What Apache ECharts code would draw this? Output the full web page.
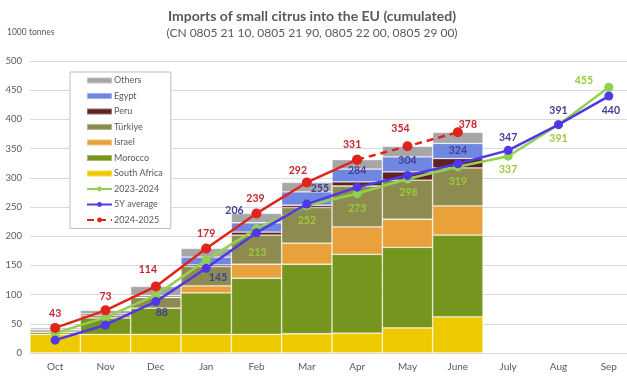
<!DOCTYPE html>
<html>
<head>
<meta charset="utf-8">
<script src="https://cdn.jsdelivr.net/npm/echarts@6/dist/echarts.min.js"></script>
<style>
  html, body { margin: 0; padding: 0; background: #fff; }
  #main { width: 627px; height: 377px; }
</style>
</head>
<body>
<div id="main"></div>
<script>
// categories (season Oct - Sep)
var months = ['Oct', 'Nov', 'Dec', 'Jan', 'Feb', 'Mar', 'Apr', 'May', 'June', 'July', 'Aug', 'Sep'];

// 2024-2025 cumulated imports by origin (1000 t), Oct - June
var southAfrica = [32, 32, 32, 32, 32, 33, 34, 43, 62];
var morocco     = [3, 28, 45, 71, 96, 119, 135, 138, 140];
var israel      = [0, 0, 0, 12, 24, 36, 47, 48, 50];
var turkiye     = [3, 4, 18, 33, 50, 61, 70, 67, 65];
var peru        = [2, 3, 3, 3, 5, 4, 7, 14, 16];
var egypt       = [0, 0, 0, 13, 16, 23, 22, 26, 26];
var others      = [3, 6, 16, 15, 16, 16, 16, 18, 19];

// totals
var season2324 = [34, 61, 99, 159, 213, 252, 273, 298, 319, 337, 391, 455];
var avg5y      = [22, 48, 88, 145, 206, 255, 284, 304, 324, 347, 391, 440];
var season2425 = [43, 73, 114, 179, 239, 292, 331, 354, 378];

var yTicks = [0, 50, 100, 150, 200, 250, 300, 350, 400, 450, 500];

var FONT = 'Lato, "Noto Sans", sans-serif';
var GREY_TXT = '#595959';

// label offsets (px from point centre), null = no label
var offRed = [[0, -14], [0, -14], [-8, -17], [0, -15], [-1, -15], [-9, -12], [-5, -15], [-7, -18], [10, -8]];
var offBlue = [null, null, [6, 11], [12, 9], [-22, -22], [13, -15], [0, -17], [0, -15], [0, -13], [0, -13], [0, -14], [2, 15]];
var offGreen = [null, null, null, null, [1, 24], [0, 15], [0, 15], [1, 14], [0, 15], [0, 13], [0, 14], [-25, -7]];

function withLabels(values, offsets, color) {
    return values.map(function (v, i) {
        var off = offsets[i];
        if (v == null) return null;
        if (!off) return { value: v, label: { show: false } };
        return {
            value: v,
            label: { show: true, position: 'inside', offset: off, color: color }
        };
    });
}

var myChart = echarts.init(document.getElementById('main'));

var barDefs = [
    ['South Africa', southAfrica, '#EFC900'],
    ['Morocco', morocco, '#76951F'],
    ['Israel', israel, '#E9A13B'],
    ['Türkiye', turkiye, '#8E8B50'],
    ['Peru', peru, '#5E2220'],
    ['Egypt', egypt, '#6F87E0'],
    ['Others', others, '#A6A6A6']
];

var series = barDefs.map(function (d) {
    return {
        name: d[0],
        type: 'bar',
        stack: 'origin',
        data: d[1],
        barCategoryGap: 0,
        barWidth: '100%',
        itemStyle: {
            color: d[2],
            borderColor: 'rgba(255,255,255,0.35)',
            borderWidth: 0.8
        },
        emphasis: { disabled: true }
    };
});

var lblFont = { fontFamily: FONT, fontSize: 10.5, fontWeight: 'bold' };

series.push({
    name: '2023-2024',
    type: 'line',
    data: withLabels(season2324, offGreen, '#9BC93A'),
    symbol: 'circle',
    symbolSize: 9,
    lineStyle: { color: '#92D050', width: 2.5 },
    itemStyle: { color: '#92D050' },
    label: Object.assign({ show: false }, lblFont),
    z: 3
});

series.push({
    name: '5Y average',
    type: 'line',
    data: withLabels(avg5y, offBlue, '#40409A'),
    symbol: 'circle',
    symbolSize: 9,
    lineStyle: { color: '#5038E6', width: 2.5 },
    itemStyle: { color: '#5038E6' },
    label: Object.assign({ show: false }, lblFont),
    z: 4
});

var redLabelled = withLabels(season2425, offRed, '#C4262E');

// dashed part Apr - June (carries the May / June labels)
series.push({
    name: '2024-2025',
    type: 'line',
    data: redLabelled.map(function (d, i) {
        if (i < 6) return null;
        if (i === 6) return { value: d.value, label: { show: false } };
        return d;
    }),
    symbol: 'circle',
    symbolSize: 10,
    lineStyle: { color: '#E0241C', width: 2.5, type: [7, 5] },
    itemStyle: { color: '#E0241C' },
    label: Object.assign({ show: false }, lblFont),
    z: 5
});

// solid part Oct - Apr
series.push({
    name: '2024-2025 solid',
    type: 'line',
    data: redLabelled.map(function (d, i) { return i <= 6 ? d : null; }),
    symbol: 'circle',
    symbolSize: 10,
    lineStyle: { color: '#E0241C', width: 2.5 },
    itemStyle: { color: '#E0241C' },
    label: Object.assign({ show: false }, lblFont),
    z: 6
});

var legendNames = ['Others', 'Egypt', 'Peru', 'Türkiye', 'Israel', 'Morocco', 'South Africa',
    '2023-2024', '5Y average', '2024-2025'];

var option = {
    animation: false,
    textStyle: { fontFamily: FONT },
    title: [{
        text: 'Imports of small citrus into the EU (cumulated)',
        subtext: '(CN 0805 21 10, 0805 21 90, 0805 22 00, 0805 29 00)',
        left: 307,
        textAlign: 'center',
        top: 4,
        itemGap: 4,
        textStyle: { fontFamily: FONT, fontSize: 14, fontWeight: 'bold', color: GREY_TXT },
        subtextStyle: { fontFamily: FONT, fontSize: 12, color: GREY_TXT }
    }, {
        text: '1000 tonnes',
        left: 2,
        top: 23,
        textStyle: { fontFamily: FONT, fontSize: 8.5, fontWeight: 'normal', color: GREY_TXT }
    }],
    legend: {
        orient: 'vertical',
        left: 70,
        top: 72,
        data: legendNames.map(function (n, i) {
            return i < 7 ? { name: n, icon: 'rect' } : { name: n };
        }),
        backgroundColor: '#fff',
        borderColor: '#BFBFBF',
        borderWidth: 1,
        borderRadius: 0,
        padding: [4, 8, 4, 16],
        itemWidth: 25,
        itemHeight: 6,
        itemGap: 6.5,
        textStyle: { fontFamily: FONT, fontSize: 9, color: GREY_TXT, padding: [0, 0, 0, -3] }
    },
    grid: { left: 30, width: 604, top: 61, bottom: 24, outerBoundsMode: 'none', containLabel: false },
    xAxis: {
        type: 'category',
        data: months,
        boundaryGap: true,
        axisLine: { lineStyle: { color: '#D9D9D9', width: 1 } },
        axisTick: { show: false },
        axisLabel: { color: GREY_TXT, fontSize: 10, fontFamily: FONT, margin: 9 }
    },
    yAxis: {
        type: 'value',
        min: yTicks[0],
        max: yTicks[yTicks.length - 1],
        interval: 50,
        axisLine: { show: false },
        axisTick: { show: false },
        splitLine: { lineStyle: { color: '#D9D9D9', width: 1 } },
        axisLabel: { color: GREY_TXT, fontSize: 9.5, fontFamily: FONT, margin: 8 }
    },
    series: series
};

myChart.setOption(option);
</script>
</body>
</html>
